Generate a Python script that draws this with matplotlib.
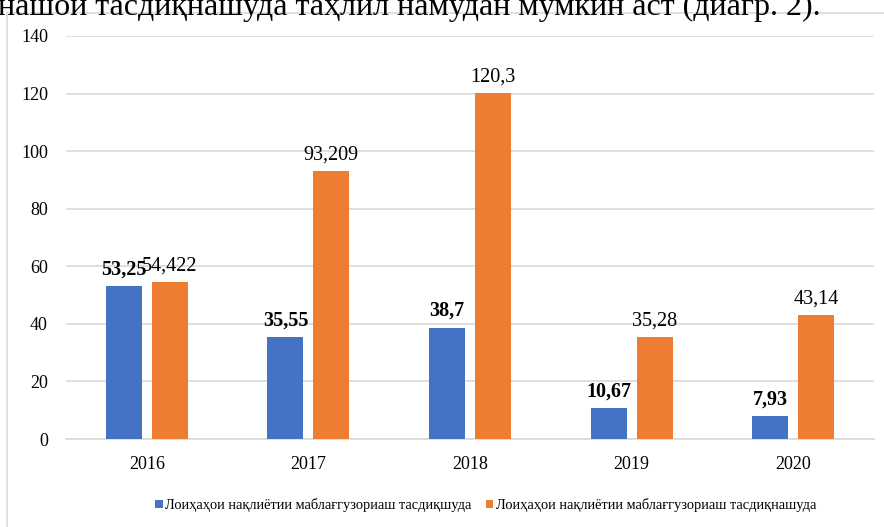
import numpy as np
import matplotlib
matplotlib.use("Agg")
import matplotlib.pyplot as plt
from matplotlib.patches import Rectangle

plt.rcParams['font.family'] = ['Liberation Serif', 'DejaVu Serif']

years = ["2016", "2017", "2018", "2019", "2020"]
approved = [53.25, 35.55, 38.7, 10.67, 7.93]
approved_labels = ["53,25", "35,55", "38,7", "10,67", "7,93"]
not_approved = [54.422, 93.209, 120.3, 35.28, 43.14]
not_approved_labels = ["54,422", "93,209", "120,3", "35,28", "43,14"]
series_names = ["Лоиҳаҳои нақлиётии маблағгузориаш тасдиқшуда",
                "Лоиҳаҳои нақлиётии маблағгузориаш тасдиқнашуда"]
top_line = "нашои тасдиқнашуда таҳлил намудан мумкин аст (диагр. 2)."

BLUE = "#4472C4"
ORANGE = "#ED7D31"
GRID = "#D9D9D9"

W, H = 884, 527
fig = plt.figure(figsize=(W / 100, H / 100), dpi=100)

# chart frame (document border)
fig.patches.append(Rectangle((7 / W, -0.1), 1.2, (H - 13) / H + 0.1,
                             transform=fig.transFigure, fill=False,
                             edgecolor=GRID, linewidth=1.2))

# cropped line of document text above the chart
fig.text(-2 / W, (H - 15) / H, top_line, fontsize=23, va='baseline', ha='left')

ax = fig.add_axes([66 / W, (H - 439) / H, (874 - 66) / W, (439 - 36) / H])
x = np.arange(len(years))
bw = 0.223
off = 0.142
b1 = ax.bar(x - off, approved, bw, color=BLUE, label=series_names[0], zorder=3)
b2 = ax.bar(x + off, not_approved, bw, color=ORANGE, label=series_names[1], zorder=3)

for xi, v, lab in zip(x, approved, approved_labels):
    ax.text(xi - off, v + 4, lab, ha='center', va='baseline', fontsize=14.5,
            fontweight='bold')
for xi, v, lab in zip(x, not_approved, not_approved_labels):
    ax.text(xi + off, v + 4, lab, ha='center', va='baseline', fontsize=14.5)

ax.set_xlim(-0.5, len(years) - 0.5)
ax.set_ylim(0, 140)
ax.set_yticks(range(0, 141, 20))
ax.set_xticks(x)
ax.set_xticklabels(years)
ax.tick_params(axis='both', length=0, labelsize=13)
ax.tick_params(axis='y', pad=13)
ax.tick_params(axis='x', pad=12)
ax.yaxis.grid(True, color=GRID, linewidth=1.2, zorder=0)
for s in ["top", "right", "left"]:
    ax.spines[s].set_visible(False)
ax.spines["bottom"].set_color(GRID)
ax.spines["bottom"].set_linewidth(1.2)

fig.legend(handles=[b1, b2], labels=series_names, loc='center',
           bbox_to_anchor=(486 / W, (H - 505) / H), ncol=2, frameon=False,
           fontsize=10.4, handlelength=0.5, handleheight=0.5,
           handletextpad=0.2, columnspacing=1.0)

fig.savefig("out.png", dpi=100)
